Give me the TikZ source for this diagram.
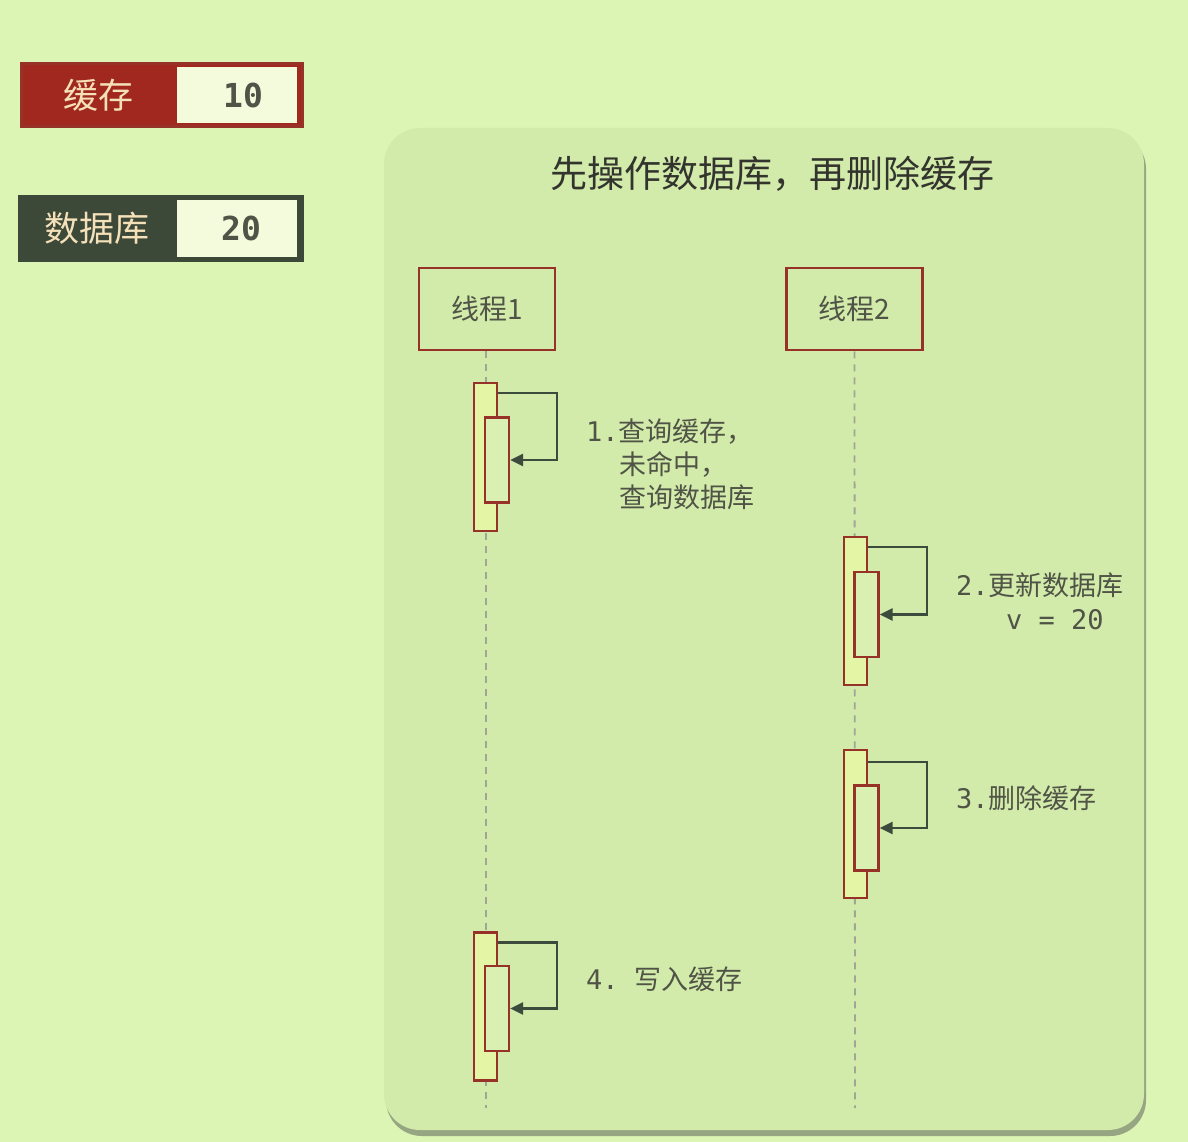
\documentclass[tikz,border=0pt]{standalone}
\usepackage{fontspec}
\setmainfont{Noto Sans CJK SC}
\newfontfamily\cjk{Noto Sans CJK SC}
\newfontfamily\monof{DejaVu Sans Mono}
\usetikzlibrary{arrows.meta,calc}
\definecolor{bgc}{RGB}{221,245,180}
\definecolor{panelc}{RGB}{210,234,170}
\definecolor{shadowc}{RGB}{150,165,130}
\definecolor{redc}{RGB}{160,40,30}
\definecolor{bordc}{RGB}{150,50,40}
\definecolor{darkc}{RGB}{60,72,56}
\definecolor{lightbox}{RGB}{244,250,220}
\definecolor{txtc}{RGB}{80,84,70}
\definecolor{titc}{RGB}{50,52,45}
\definecolor{actout}{RGB}{228,246,165}
\definecolor{actin}{RGB}{218,240,178}
\definecolor{arrc}{RGB}{60,75,60}
\definecolor{lifec}{RGB}{160,165,150}
\definecolor{ltxt}{RGB}{245,225,185}
\tikzset{
  thread/.style={draw=bordc,line width=2.5pt,fill=panelc,minimum width=136pt,minimum height=82pt,inner sep=0pt,font=\cjk\fontsize{28}{32}\selectfont,text=txtc},
  actouter/.style={draw=bordc,line width=2.2pt,fill=actout,minimum width=23pt,minimum height=148pt,inner sep=0pt},
  actinner/.style={draw=bordc,line width=2.2pt,fill=actin,minimum width=24pt,minimum height=85pt,inner sep=0pt},
  msg/.style={draw=arrc,line width=2.4pt,-{Triangle[length=13pt,width=12pt]}},
  life/.style={draw=lifec,line width=1.8pt,dash pattern=on 7pt off 6pt},
  lbl/.style={anchor=west,inner sep=0pt,text=txtc,font=\cjk\fontsize{27}{30}\selectfont},
}
\begin{document}
\begin{tikzpicture}[x=1pt,y=-1pt]
\useasboundingbox (0,0) rectangle (1188,1142);
\fill[bgc] (0,0) rectangle (1188,1142);
% panel with shadow
\fill[shadowc,rounded corners=36pt] (386,133) rectangle (1146,1136);
\fill[panelc,rounded corners=36pt] (384,128) rectangle (1144,1130);
\node[font=\cjk\fontsize{37}{40}\selectfont,text=titc] (title) at (772,174) {先操作数据库，再删除缓存};
% legend boxes
\node[draw=bordc,line width=3pt,fill=redc,minimum width=281pt,minimum height=63pt,inner sep=0pt] (cache) at (161.5,95) {};
\node[fill=lightbox,minimum width=120pt,minimum height=56pt,inner sep=0pt] (cacheV) at (237,95) {};
\node[text=ltxt,font=\cjk\fontsize{35}{38}\selectfont] (cacheT) at (98,95) {缓存};
\node[text=txtc,font=\monof\bfseries\fontsize{33}{36}\selectfont] (cacheN) at (243,95) {10};
\node[draw=darkc,line width=3pt,fill=darkc,minimum width=283pt,minimum height=63pt,inner sep=0pt] (db) at (160.5,228.5) {};
\node[fill=lightbox,minimum width=120pt,minimum height=56pt,inner sep=0pt] (dbV) at (237,228.5) {};
\node[text=ltxt,font=\cjk\fontsize{35}{38}\selectfont] (dbT) at (97,228.5) {数据库};
\node[text=txtc,font=\monof\bfseries\fontsize{33}{36}\selectfont] (dbN) at (241,228.5) {20};
% threads
\node[thread] (t1) at (487,309) {线程1};
\node[thread] (t2) at (854.5,309) {线程2};
\coordinate (l1end) at (486,1108);
\coordinate (l2end) at (855,1108);
\draw[life] ([xshift=-1pt]t1.south) -- (l1end);
\draw[life] (t2.south) -- (l2end);
% step 1
\node[actouter] (a1o) at (485.5,457) {};
\node[actinner] (a1i) at (497,460) {};
\draw[msg] ([yshift=-11pt]a1o.north east) -- ++(59,0) |- (a1i.east);
\node[lbl] (l1a) at (586,432) {{\monof 1.}查询缓存，};
\node[lbl] (l1b) at (619,464) {未命中，};
\node[lbl] (l1c) at (619,497) {查询数据库};
% step 2
\node[actouter] (a2o) at (855.5,611) {};
\node[actinner] (a2i) at (866.5,614.5) {};
\draw[msg] ([yshift=-11pt]a2o.north east) -- ++(59,0) |- (a2i.east);
\node[lbl] (l2a) at (956,585) {{\monof 2.}更新数据库};
\node[lbl,font=\monof\fontsize{27}{30}\selectfont] (l2b) at (1006,620) {v = 20};
% step 3
\node[actouter] (a3o) at (855.5,824) {};
\node[actinner] (a3i) at (866.5,828) {};
\draw[msg] ([yshift=-13pt]a3o.north east) -- ++(59,0) |- (a3i.east);
\node[lbl] (l3a) at (956,798) {{\monof 3.}删除缓存};
% step 4
\node[actouter] (a4o) at (485.5,1006.5) {};
\node[actinner] (a4i) at (497,1008.5) {};
\draw[msg] ([yshift=-11pt]a4o.north east) -- ++(59,0) |- (a4i.east);
\node[lbl] (l4a) at (586,979) {{\monof 4.\ }写入缓存};
\end{tikzpicture}
\end{document}
